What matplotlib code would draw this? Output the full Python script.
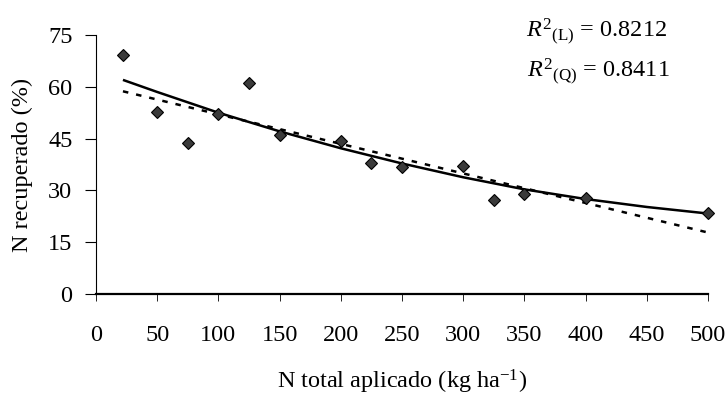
import numpy as np
import matplotlib.pyplot as plt

# observed points
n_aplicado = [22, 50, 75, 100, 125, 150, 200, 225, 250, 300, 325, 350, 400, 500]
n_recuperado = [69.3, 52.6, 43.8, 52.1, 61.0, 46.0, 44.3, 37.8, 36.9, 37.1, 27.1, 29.0, 27.7, 23.5]

# fitted curves
x_lin = [22, 500]
y_lin = [58.7, 17.8]
x_quad = [22, 50, 100, 150, 200, 250, 300, 350, 400, 450, 500]
y_quad = [62.0, 58.5, 52.5, 47.1, 42.2, 37.8, 33.8, 30.3, 27.5, 25.2, 23.3]

x_ticks = [0, 50, 100, 150, 200, 250, 300, 350, 400, 450, 500]
y_ticks = [0, 15, 30, 45, 60, 75]

r2_lin = "0.8212"
r2_quad = "0.8411"

plt.rcParams['font.family'] = ['Liberation Serif', 'DejaVu Serif']
plt.rcParams['mathtext.fontset'] = 'custom'
plt.rcParams['mathtext.rm'] = 'Liberation Serif'
plt.rcParams['mathtext.it'] = 'Liberation Serif:italic'

fig = plt.figure(figsize=(7.28, 3.96), dpi=100)
ax = fig.add_axes([0.1319, 0.2576, 0.9725 - 0.1319, 0.9116 - 0.2576])

ax.plot(x_quad, y_quad, color='black', lw=1.8, solid_capstyle='butt')
ax.plot(x_lin, y_lin, color='black', lw=1.8, linestyle=(0, (2.2, 3.2)))
ax.plot(n_aplicado, n_recuperado, linestyle='none', marker='D', markersize=6,
        markerfacecolor='#3a3a3a', markeredgecolor='black', markeredgewidth=0.8,
        clip_on=False, zorder=3)

ax.set_xlim(0, 500)
ax.set_ylim(0, 75)
ax.set_xticks(x_ticks)
ax.set_yticks(y_ticks)
ax.spines['top'].set_visible(False)
ax.spines['right'].set_visible(False)
ax.spines['bottom'].set_linewidth(1.6)
ax.spines['left'].set_linewidth(0.8)
ax.tick_params(axis='x', direction='out', length=5, width=0.6, pad=17, labelsize=17.5)
ax.tick_params(axis='y', direction='out', length=8, width=0.8, pad=9, labelsize=17.5)

ax.set_xlabel("N total aplicado (kg ha$^{-1}$)", fontsize=17.5, labelpad=16)
ax.set_ylabel("N recuperado (%)", fontsize=17.5, labelpad=11)

fig.text(0.722, 0.905, r"$R^{2}{}_{\mathrm{(L)}}$" + " = " + r2_lin, fontsize=17.5)
fig.text(0.724, 0.805, r"$R^{2}{}_{\mathrm{(Q)}}$" + " = " + r2_quad, fontsize=17.5)

fig.savefig("out.png", dpi=100)
